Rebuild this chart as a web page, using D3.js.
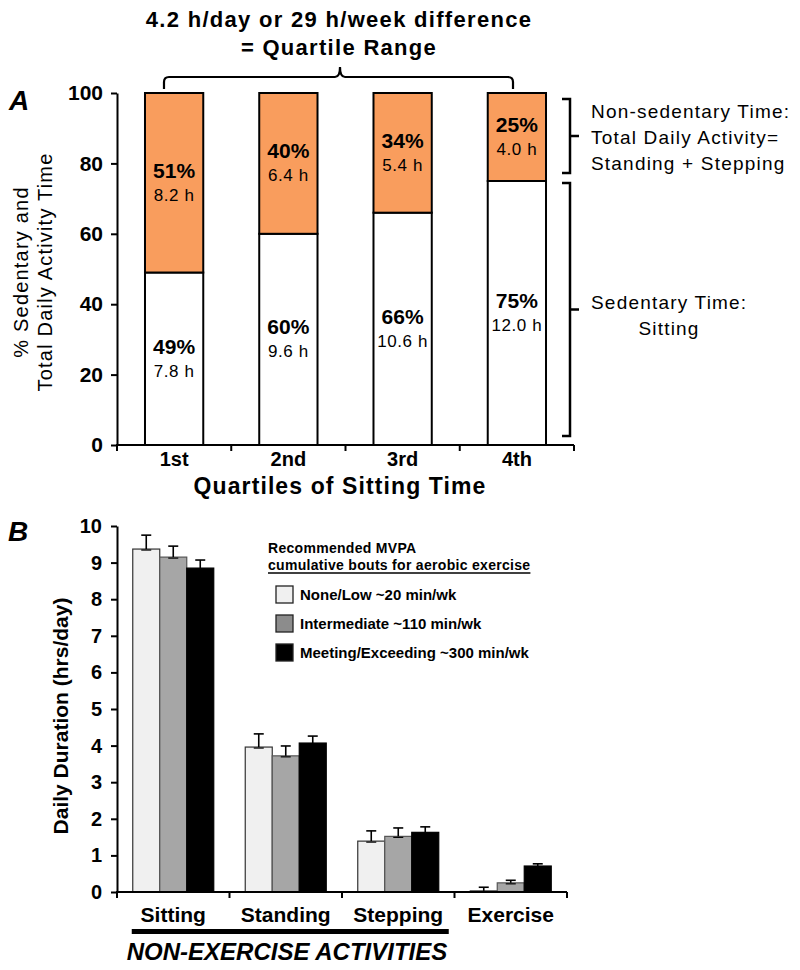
<!DOCTYPE html>
<html><head><meta charset="utf-8">
<script src="https://cdn.jsdelivr.net/npm/d3@7"></script>
<style>
body{margin:0;background:#fff;}
svg text{font-family:"Liberation Sans",Arial,Helvetica,sans-serif;fill:#000;}
</style>
</head><body>
<svg id="chart" width="800" height="970"></svg>
<script>
// ---------- Panel A data ----------
const quartiles = ["1st", "2nd", "3rd", "4th"];
const sedentaryPct = [49, 60, 66, 75];
const nonSedentaryPct = [51, 40, 34, 25];
const sedentaryHours = ["7.8 h", "9.6 h", "10.6 h", "12.0 h"];
const nonSedentaryHours = ["8.2 h", "6.4 h", "5.4 h", "4.0 h"];
const yTicksA = [0, 20, 40, 60, 80, 100];

// ---------- Panel B data ----------
const activities = ["Sitting", "Standing", "Stepping", "Exercise"];
const groupNames = ["None/Low ~20 min/wk", "Intermediate ~110 min/wk", "Meeting/Exceeding  ~300 min/wk"];
const noneLow = [9.37, 3.96, 1.39, 0.03];
const intermediate = [9.15, 3.72, 1.52, 0.25];
const meeting = [8.85, 4.07, 1.63, 0.71];
const noneLowErr = [0.38, 0.36, 0.28, 0.10];
const intermediateErr = [0.30, 0.27, 0.23, 0.07];
const meetingErr = [0.22, 0.19, 0.15, 0.06];
const yTicksB = [0, 1, 2, 3, 4, 5, 6, 7, 8, 9, 10];

const svg = d3.select("#chart");
const FONT = '"Liberation Sans", Arial, Helvetica, sans-serif';

// ================= PANEL A =================
const yA = d3.scaleLinear().domain([0, 100]).range([445, 93]);
const xA = d3.scaleBand().domain(quartiles).range([117, 574]).paddingInner(0.49).paddingOuter(0.245);
const ORANGE = "#F99D5D";

const gA = svg.append("g");

// Title
gA.append("text").attr("x", 339).attr("y", 27).attr("text-anchor", "middle")
  .style("font-size", "22px").style("font-weight", "bold").style("letter-spacing", "1.3px")
  .text("4.2 h/day or 29 h/week difference");
gA.append("text").attr("x", 339).attr("y", 55).attr("text-anchor", "middle")
  .style("font-size", "22px").style("font-weight", "bold").style("letter-spacing", "1.3px")
  .text("= Quartile Range");

// top brace spanning first to last bar
(function () {
  const x1 = xA(quartiles[0]) + 19, x2 = xA(quartiles[3]) + xA.bandwidth() - 33;
  const yb = 77, ye = 89, tip = 67, xm = 340, r = 5;
  const p = d3.path();
  p.moveTo(x1, ye);
  p.lineTo(x1, yb + r);
  p.quadraticCurveTo(x1, yb, x1 + r, yb);
  p.lineTo(xm - 5, yb);
  p.quadraticCurveTo(xm, yb, xm, tip);
  p.quadraticCurveTo(xm, yb, xm + 5, yb);
  p.lineTo(x2 - r, yb);
  p.quadraticCurveTo(x2, yb, x2, yb + r);
  p.lineTo(x2, ye);
  gA.append("path").attr("d", p.toString()).attr("fill", "none").attr("stroke", "#000").attr("stroke-width", 2.2);
})();

// "A" label
gA.append("text").attr("x", 9).attr("y", 110).style("font-size", "28px")
  .style("font-weight", "bold").style("font-style", "italic").text("A");

// bars
quartiles.forEach((q, i) => {
  const x = xA(q), w = xA.bandwidth();
  gA.append("rect").attr("x", x).attr("y", yA(sedentaryPct[i])).attr("width", w)
    .attr("height", yA(0) - yA(sedentaryPct[i])).attr("fill", "#fff").attr("stroke", "#000").attr("stroke-width", 2);
  gA.append("rect").attr("x", x).attr("y", yA(sedentaryPct[i] + nonSedentaryPct[i])).attr("width", w)
    .attr("height", yA(sedentaryPct[i]) - yA(sedentaryPct[i] + nonSedentaryPct[i]))
    .attr("fill", ORANGE).attr("stroke", "#000").attr("stroke-width", 2);
  const cx = x + w / 2;
  const cs = yA(sedentaryPct[i] / 2);
  const cn = yA(sedentaryPct[i] + nonSedentaryPct[i] / 2);
  [[cs, sedentaryPct[i], sedentaryHours[i]], [cn, nonSedentaryPct[i], nonSedentaryHours[i]]].forEach(([c, pct, hrs]) => {
    gA.append("text").attr("x", cx).attr("y", c - 5).attr("text-anchor", "middle")
      .style("font-size", "21px").style("font-weight", "bold").text(pct + "%");
    gA.append("text").attr("x", cx).attr("y", c + 18).attr("text-anchor", "middle")
      .style("font-size", "17px").style("letter-spacing", "0.6px").text(hrs);
  });
});

// y axis A
const axA = gA.append("g").attr("transform", "translate(117,0)")
  .call(d3.axisLeft(yA).tickValues(yTicksA).tickSize(6).tickSizeOuter(0).tickPadding(8));
axA.select(".domain").attr("stroke", "#000").attr("stroke-width", 2);
axA.selectAll(".tick line").attr("stroke", "#000").attr("stroke-width", 2);
axA.selectAll(".tick text").style("font-family", FONT).style("font-size", "21px").style("font-weight", "bold").attr("fill", "#000");

// x axis A
gA.append("line").attr("x1", 116).attr("x2", 574).attr("y1", yA(0)).attr("y2", yA(0)).attr("stroke", "#000").attr("stroke-width", 2);
d3.range(quartiles.length + 1).forEach(k => {
  const xx = xA.range()[0] + k * xA.step();
  gA.append("line").attr("x1", xx).attr("x2", xx).attr("y1", yA(0)).attr("y2", yA(0) + 6).attr("stroke", "#000").attr("stroke-width", 2);
});
quartiles.forEach(q => {
  gA.append("text").attr("x", xA(q) + xA.bandwidth() / 2).attr("y", 466).attr("text-anchor", "middle")
    .style("font-size", "20px").style("font-weight", "bold").text(q);
});
gA.append("text").attr("x", 340).attr("y", 494).attr("text-anchor", "middle")
  .style("font-size", "23px").style("font-weight", "bold").style("letter-spacing", "1.1px")
  .text("Quartiles of Sitting Time");

// y title A
const ytA = gA.append("text").attr("transform", "translate(0,272) rotate(-90)").attr("text-anchor", "middle")
  .style("font-size", "20px").style("letter-spacing", "1.2px");
ytA.append("tspan").attr("x", 0).attr("y", 28).text("% Sedentary and");
ytA.append("tspan").attr("x", 0).attr("y", 52).text("Total Daily Activity Time");

// right braces (from the 4th quartile split)
(function () {
  const last = quartiles.length - 1;
  const split = yA(sedentaryPct[last]);
  const x = 570;
  [[yA(100) + 6, split - 8], [split + 2, yA(0) - 9]].forEach(([a, b]) => {
    const m = (a + b) / 2;
    const p = d3.path();
    p.moveTo(x - 8, a); p.lineTo(x, a); p.lineTo(x, b); p.lineTo(x - 8, b);
    p.moveTo(x, m); p.lineTo(x + 9, m);
    gA.append("path").attr("d", p.toString()).attr("fill", "none").attr("stroke", "#000").attr("stroke-width", 2.5);
  });
})();

const rtStyle = t => t.style("font-size", "19px").style("letter-spacing", "1.2px");
rtStyle(gA.append("text").attr("x", 591).attr("y", 118).text("Non-sedentary Time:"));
rtStyle(gA.append("text").attr("x", 591).attr("y", 144).text("Total Daily Activity="));
rtStyle(gA.append("text").attr("x", 591).attr("y", 170).text("Standing + Stepping"));
rtStyle(gA.append("text").attr("x", 591).attr("y", 309).text("Sedentary Time:"));
rtStyle(gA.append("text").attr("x", 669).attr("y", 335).attr("text-anchor", "middle").text("Sitting"));

// ================= PANEL B =================
const gB = svg.append("g");
const yB = d3.scaleLinear().domain([0, 10]).range([892, 526]);
const x0 = d3.scaleBand().domain(activities).range([117, 567]).paddingInner(0.28).paddingOuter(0.14);
const seriesKeys = ["none", "inter", "meet"];
const x1 = d3.scaleBand().domain(seriesKeys).range([0, x0.bandwidth()]);
const fills = { none: "#F0F0F0", inter: "#A6A6A6", meet: "#000000" };
const strokes = { none: "#333", inter: "#555", meet: "#000" };
const legendFills = { none: "#F0F0F0", inter: "#8C8C8C", meet: "#000000" };
const vals = { none: noneLow, inter: intermediate, meet: meeting };
const errs = { none: noneLowErr, inter: intermediateErr, meet: meetingErr };

gB.append("text").attr("x", 8).attr("y", 541).style("font-size", "28px")
  .style("font-weight", "bold").style("font-style", "italic").text("B");

activities.forEach((a, i) => {
  seriesKeys.forEach(k => {
    const v = vals[k][i], e = errs[k][i];
    const bx = x0(a) + x1(k), bw = x1.bandwidth();
    gB.append("rect").attr("x", bx).attr("y", yB(v)).attr("width", bw).attr("height", yB(0) - yB(v))
      .attr("fill", fills[k]).attr("stroke", strokes[k]).attr("stroke-width", 1.2);
    const cx = bx + bw / 2;
    gB.append("line").attr("x1", cx).attr("x2", cx).attr("y1", yB(v)).attr("y2", yB(v + e)).attr("stroke", "#000").attr("stroke-width", 1.6);
    gB.append("line").attr("x1", cx - 5).attr("x2", cx + 5).attr("y1", yB(v + e)).attr("y2", yB(v + e)).attr("stroke", "#000").attr("stroke-width", 1.6);
    gB.append("line").attr("x1", cx - 5).attr("x2", cx + 5).attr("y1", yB(v) + 1).attr("y2", yB(v) + 1).attr("stroke", "#000").attr("stroke-width", 1.2);
  });
});

// y axis B
const axB = gB.append("g").attr("transform", "translate(117,0)")
  .call(d3.axisLeft(yB).tickValues(yTicksB).tickSize(6).tickSizeOuter(0).tickPadding(9));
axB.select(".domain").attr("stroke", "#000").attr("stroke-width", 2);
axB.selectAll(".tick line").attr("stroke", "#000").attr("stroke-width", 2);
axB.selectAll(".tick text").style("font-family", FONT).style("font-size", "20px").style("font-weight", "bold").attr("fill", "#000");

// x axis B
gB.append("line").attr("x1", 116).attr("x2", 567).attr("y1", yB(0)).attr("y2", yB(0)).attr("stroke", "#000").attr("stroke-width", 2);
d3.range(activities.length + 1).forEach(k => {
  const xx = x0.range()[0] + k * x0.step();
  gB.append("line").attr("x1", xx).attr("x2", xx).attr("y1", yB(0)).attr("y2", yB(0) + 6).attr("stroke", "#000").attr("stroke-width", 2);
});
activities.forEach(a => {
  gB.append("text").attr("x", x0(a) + x0.bandwidth() / 2).attr("y", 922).attr("text-anchor", "middle")
    .style("font-size", "21px").style("font-weight", "bold").text(a);
});
// non-exercise bar
gB.append("rect").attr("x", x0("Sitting") - 1).attr("y", 929)
  .attr("width", (x0("Stepping") + x0.bandwidth() + 10) - (x0("Sitting") - 1)).attr("height", 5).attr("fill", "#000");
gB.append("text").attr("x", 287).attr("y", 960).attr("text-anchor", "middle")
  .style("font-size", "24px").style("font-weight", "bold").style("font-style", "italic")
  .text("NON-EXERCISE ACTIVITIES");

// y title B
gB.append("text").attr("transform", "translate(68,716) rotate(-90)").attr("text-anchor", "middle")
  .style("font-size", "21px").style("font-weight", "bold").text("Daily Duration (hrs/day)");

// legend
gB.append("text").attr("x", 268).attr("y", 553).style("font-size", "14px").style("font-weight", "bold")
  .style("letter-spacing", "0.3px").text("Recommended MVPA");
const lt2 = gB.append("text").attr("x", 268).attr("y", 570).style("font-size", "14px").style("font-weight", "bold")
  .style("letter-spacing", "0.3px").text("cumulative bouts for aerobic exercise");
const lw = lt2.node().getComputedTextLength();
gB.append("line").attr("x1", 268).attr("x2", 268 + lw).attr("y1", 573).attr("y2", 573).attr("stroke", "#000").attr("stroke-width", 1.3);

seriesKeys.forEach((k, j) => {
  const yy = 586 + j * 29;
  gB.append("rect").attr("x", 276).attr("y", yy).attr("width", 17).attr("height", 17)
    .attr("fill", legendFills[k]).attr("stroke", "#222").attr("stroke-width", 1.3);
  gB.append("text").attr("x", 300).attr("y", yy + 14).style("font-size", "15px").style("font-weight", "bold")
    .text(groupNames[j]);
});
</script>
</body></html>
